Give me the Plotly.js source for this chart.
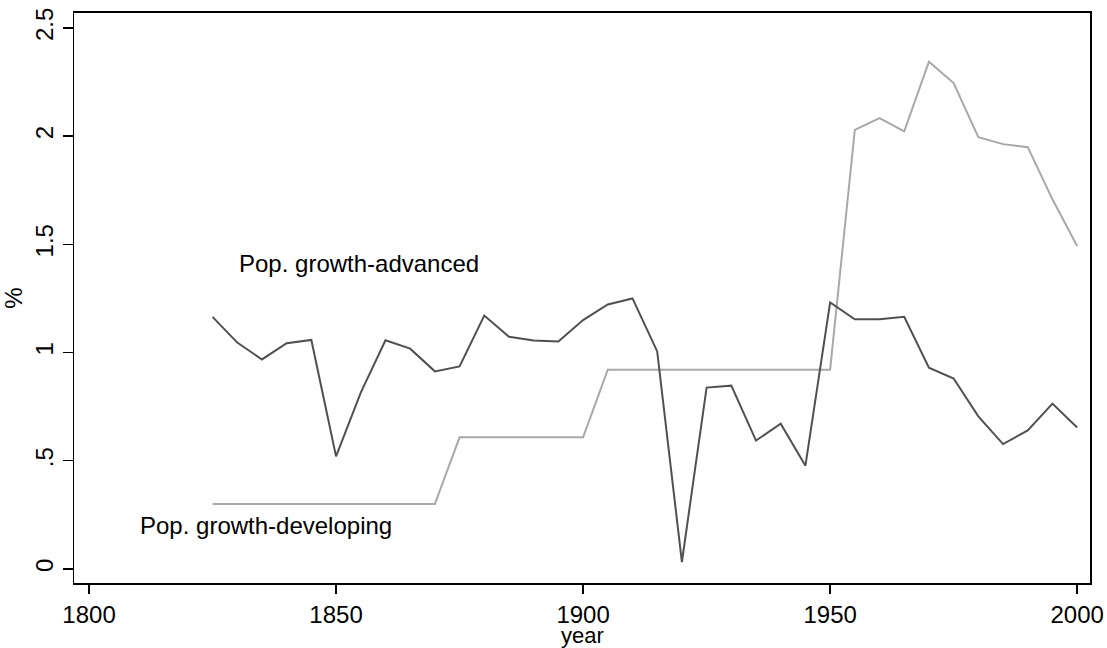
<!DOCTYPE html>
<html>
<head>
<meta charset="utf-8">
<script src="https://cdn.plot.ly/plotly-3.0.1.min.js"></script>
<style>html,body{margin:0;padding:0;background:#fff;}#chart{width:1107px;height:648px;}</style>
</head>
<body>
<div id="chart"></div>
<script>
var years = [1825,1830,1835,1840,1845,1850,1855,1860,1865,1870,1875,1880,1885,1890,1895,1900,1905,1910,1915,1920,1925,1930,1935,1940,1945,1950,1955,1960,1965,1970,1975,1980,1985,1990,1995,2000];
var advanced = [1.165,1.046,0.968,1.043,1.058,0.52,0.815,1.057,1.018,0.913,0.936,1.171,1.073,1.056,1.051,1.150,1.222,1.250,1.005,0.032,0.838,0.847,0.593,0.671,0.477,1.231,1.154,1.154,1.165,0.930,0.880,0.705,0.577,0.640,0.764,0.654];
var developing = [0.30,0.30,0.30,0.30,0.30,0.30,0.30,0.30,0.30,0.30,0.608,0.608,0.608,0.608,0.608,0.608,0.921,0.921,0.921,0.921,0.921,0.921,0.921,0.921,0.921,0.921,2.029,2.083,2.022,2.344,2.245,1.995,1.963,1.949,1.708,1.492];
var xTicks = [1800,1850,1900,1950,2000];
var xTickText = ["1800","1850","1900","1950","2000"];
var yTicks = [0,0.5,1,1.5,2,2.5];
var yTickText = ["0",".5","1","1.5","2","2.5"];
var labelAdvanced = "Pop. growth-advanced";
var labelDeveloping = "Pop. growth-developing";
var xTitle = "year";
var yTitle = "%";

var font = "Liberation Sans, Arial, sans-serif";
var traces = [
  {x: years, y: developing, mode: "lines", line: {color: "#a8a8a8", width: 2}, hoverinfo: "none"},
  {x: years, y: advanced, mode: "lines", line: {color: "#505050", width: 2}, hoverinfo: "none"}
];
var layout = {
  width: 1107, height: 648,
  margin: {l: 74, r: 17, t: 13, b: 65},
  paper_bgcolor: "#fff", plot_bgcolor: "#fff",
  showlegend: false,
  font: {family: font, size: 24, color: "#000"},
  xaxis: {
    range: [1796.96, 2002.6], tickvals: xTicks, ticktext: xTickText,
    ticks: "outside", ticklen: 9, tickwidth: 1.5, tickcolor: "#000",
    showgrid: false, zeroline: false, showline: true, linecolor: "#000", linewidth: 2, mirror: true,
    tickfont: {family: font, size: 24, color: "#000"}
  },
  yaxis: {
    range: [-0.065, 2.569], tickvals: yTicks, ticktext: yTickText,
    ticks: "outside", ticklen: 10, tickwidth: 1.5, tickcolor: "#000", tickangle: -90,
    showgrid: false, zeroline: false, showline: true, linecolor: "#000", linewidth: 1.5, mirror: true,
    tickfont: {family: font, size: 24, color: "#000"},
    title: {text: yTitle, font: {family: font, size: 24, color: "#000"}, standoff: 4}
  },
  annotations: [
    {x: 1830.0, y: 1.412, xref: "x", yref: "y", text: labelAdvanced, showarrow: false, xanchor: "left", yanchor: "middle", font: {family: font, size: 24, color: "#000"}},
    {x: 1809.9, y: 0.20, xref: "x", yref: "y", text: labelDeveloping, showarrow: false, xanchor: "left", yanchor: "middle", font: {family: font, size: 24, color: "#000"}},
    {x: 0.5, y: -0.092, xref: "paper", yref: "paper", text: xTitle, showarrow: false, xanchor: "center", yanchor: "middle", borderpad: 0, font: {family: font, size: 22, color: "#000"}}
  ]
};
Plotly.newPlot("chart", traces, layout, {staticPlot: true, displayModeBar: false});
</script>
</body>
</html>
